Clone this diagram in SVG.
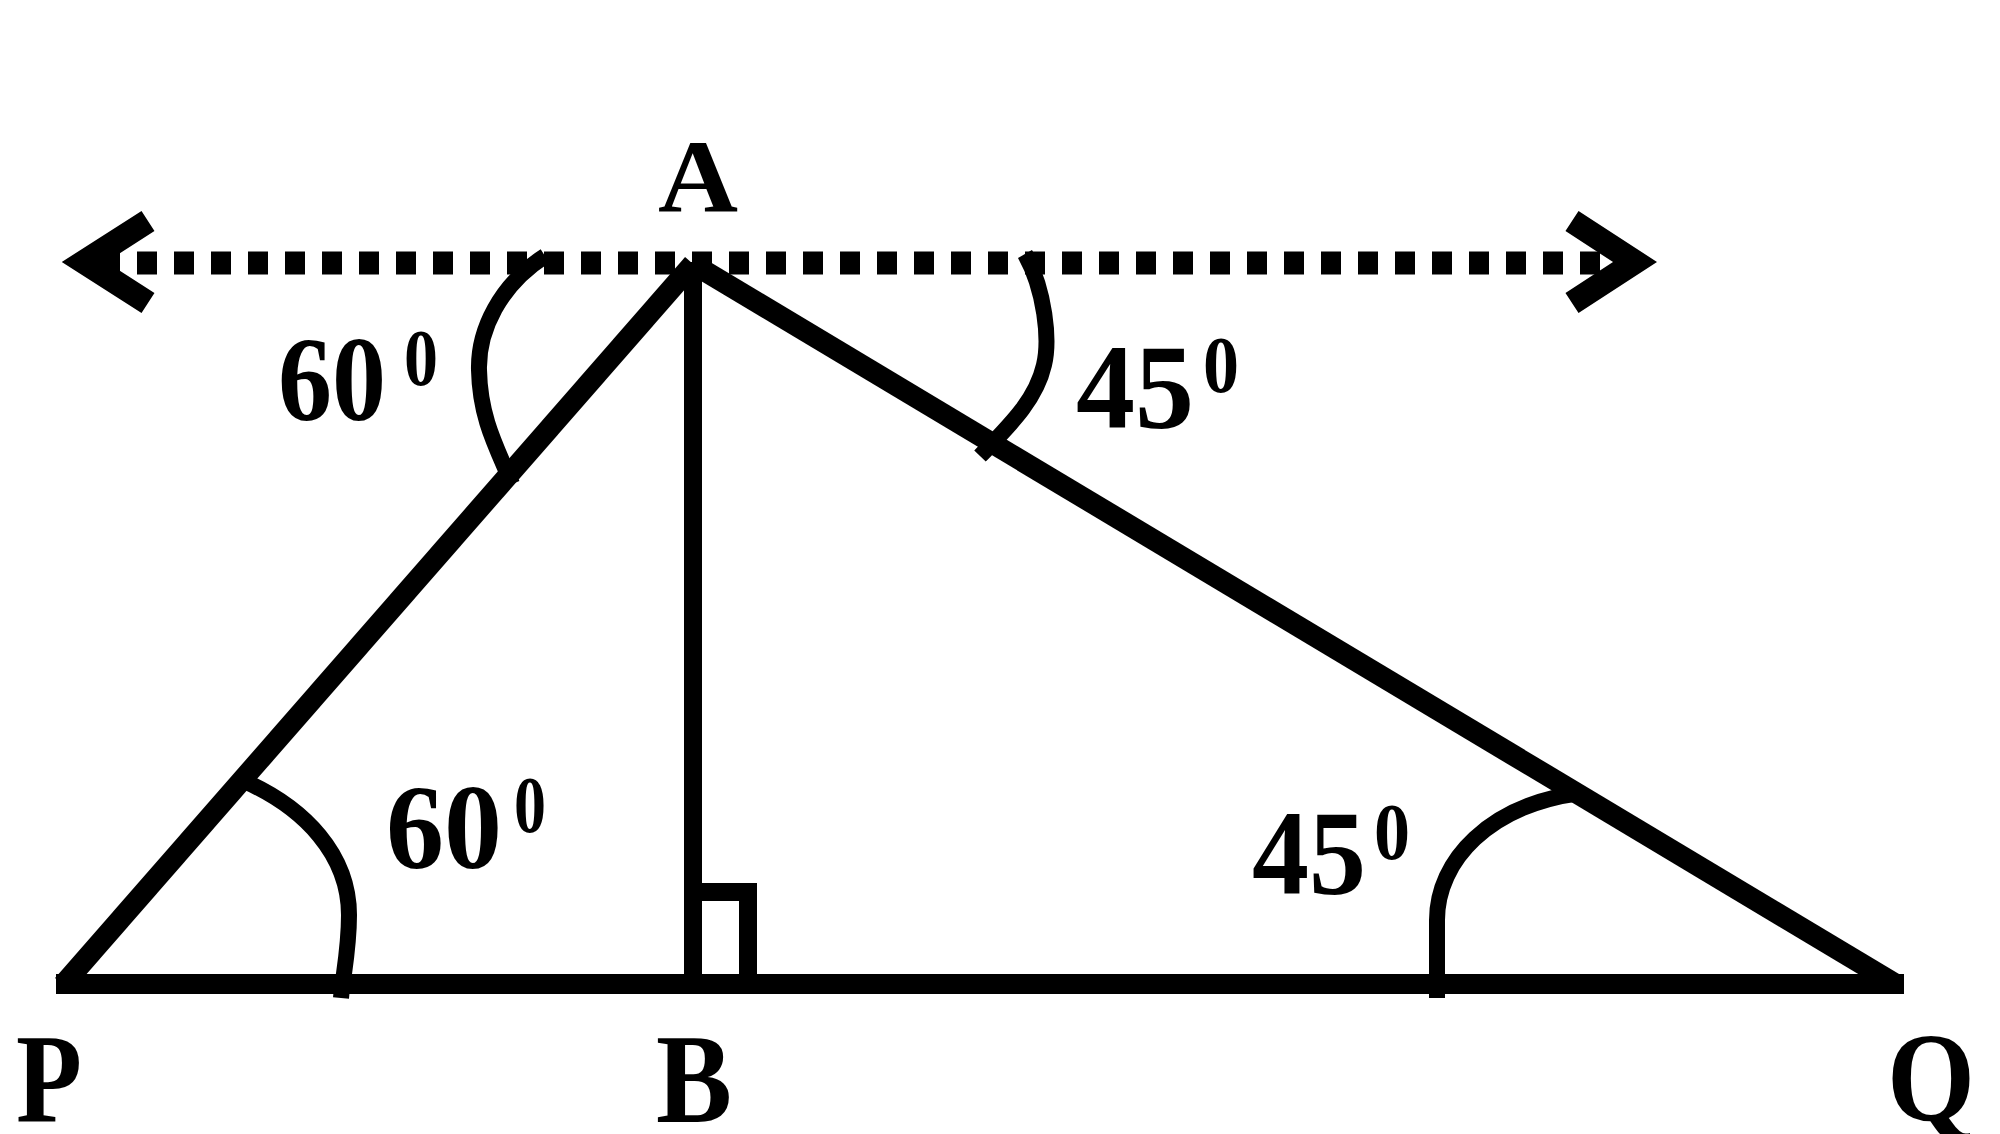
<svg xmlns="http://www.w3.org/2000/svg" width="2000" height="1134" viewBox="0 0 2000 1134">
<style>
.ln{stroke:#000;fill:none;stroke-linecap:butt}
.arc{stroke:#000;fill:none;stroke-width:16;stroke-linecap:butt}
.lbl{font-family:"Liberation Serif","Times New Roman",serif;font-weight:bold;fill:#000}
.big{font-size:128px}
.num{font-size:120px}
.sup{font-size:80px}
</style>
<rect width="2000" height="1134" fill="#fff"/>
<g id="connectors">
  <line class="ln" x1="100" y1="263" x2="1632" y2="263" stroke-width="23" stroke-dasharray="20 17"/>
  <polyline class="ln" points="148,221 84,262 148,303" stroke-width="24" stroke-linejoin="miter"/>
  <polyline class="ln" points="1572,221 1635,262 1572,303" stroke-width="24" stroke-linejoin="miter"/>
  <line class="ln" x1="693" y1="264" x2="63" y2="985" stroke-width="21"/>
  <line class="ln" x1="693" y1="264" x2="1897" y2="985" stroke-width="21"/>
  <line class="ln" x1="693" y1="262" x2="693" y2="985" stroke-width="18"/>
  <line class="ln" x1="56" y1="984" x2="1904" y2="984" stroke-width="20"/>
  <path class="ln" d="M693,892 H748 V984" stroke-width="18"/>
</g>
<g id="arcs">
  <path class="arc" d="M545,256 C500,285 478,330 479,370 C480,420 498,450 512,484"/>
  <path class="arc" d="M1025,254 C1045,290 1050,340 1044,365 C1036,400 1010,425 980,456"/>
  <path class="arc" d="M244,781 C305,808 349,855 349,915 C349,950 343,975 341,998"/>
  <path class="arc" d="M1437,998 L1437,920 C1437,860 1490,805 1580,793"/>
</g>
<g id="node-A"><text class="lbl" x="698" y="212" text-anchor="middle" font-size="104" textLength="80" lengthAdjust="spacingAndGlyphs">A</text></g>
<g id="node-P"><text class="lbl big" x="16" y="1122" textLength="66" lengthAdjust="spacingAndGlyphs">P</text></g>
<g id="node-B"><text class="lbl big" x="656" y="1122" textLength="76" lengthAdjust="spacingAndGlyphs">B</text></g>
<g id="node-Q"><text class="lbl big" x="1887" y="1120" textLength="88" lengthAdjust="spacingAndGlyphs">Q</text></g>
<g id="angle-A-left"><text class="lbl num" x="278" y="420" textLength="108" lengthAdjust="spacingAndGlyphs">60</text><text class="lbl sup" x="404" y="385" textLength="34" lengthAdjust="spacingAndGlyphs">0</text></g>
<g id="angle-A-right"><text class="lbl num" x="1076" y="428" textLength="118" lengthAdjust="spacingAndGlyphs">45</text><text class="lbl sup" x="1203" y="392" textLength="36" lengthAdjust="spacingAndGlyphs">0</text></g>
<g id="angle-P"><text class="lbl num" x="386" y="868" textLength="116" lengthAdjust="spacingAndGlyphs">60</text><text class="lbl sup" x="514" y="832" textLength="32" lengthAdjust="spacingAndGlyphs">0</text></g>
<g id="angle-Q"><text class="lbl num" x="1252" y="894" textLength="114" lengthAdjust="spacingAndGlyphs">45</text><text class="lbl sup" x="1374" y="859" textLength="36" lengthAdjust="spacingAndGlyphs">0</text></g>
</svg>
